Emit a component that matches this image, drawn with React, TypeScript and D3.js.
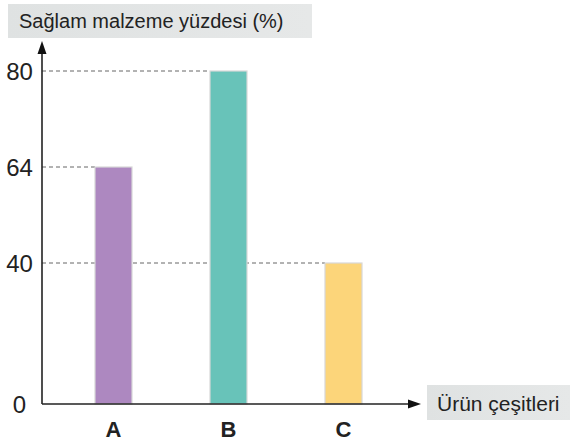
import React from "react";
import * as d3 from "d3";

const categories = ["A", "B", "C"];
const values = [64, 80, 40];
const barColors = ["#ad88c0", "#68c3b9", "#fcd57a"];
const yTicks = [0, 40, 64, 80];
const yTitle = "Sağlam malzeme yüzdesi (%)";
const xTitle = "Ürün çeşitleri";

const W = 570;
const H = 441;
const font = "'Liberation Sans', Arial, Helvetica, sans-serif";

const App = () => {
  const axisX = 42;
  const baseY = 404;
  // the picture spaces the ticks evenly, not proportionally
  const y = d3.scaleLinear().domain([0, 40, 64, 80]).range([baseY, 263, 167, 71]);
  const x = d3.scalePoint<string>().domain(categories).range([113.5, 343.5]);
  const barW = 37;

  return (
    <svg
      width={W}
      height={H}
      style={{ position: "absolute", left: 0, top: 0, background: "#fff" }}
      fontFamily={font}
    >
      <defs>
        <linearGradient id="boxGrad" x1="0" x2="1" y1="0" y2="0">
          <stop offset="0%" stopColor="#dfe2e2" />
          <stop offset="100%" stopColor="#e6e8e8" />
        </linearGradient>
      </defs>

      {/* dashed guide lines, behind the bars */}
      {values.map((v, i) => (
        <line
          key={"g" + i}
          x1={axisX}
          x2={(x(categories[i]) as number) - barW / 2}
          y1={y(v)}
          y2={y(v)}
          stroke="#666"
          strokeWidth={1}
          strokeDasharray="4,3"
        />
      ))}

      {/* bars */}
      {values.map((v, i) => (
        <rect
          key={"b" + i}
          x={(x(categories[i]) as number) - barW / 2}
          y={y(v)}
          width={barW}
          height={baseY - y(v)}
          fill={barColors[i]}
          stroke="#d8d8d8"
          strokeWidth={1.2}
        />
      ))}

      {/* axes */}
      <line x1={axisX} x2={axisX} y1={baseY} y2={52} stroke="#222" strokeWidth={1.6} />
      <path d={`M${axisX},41 L${axisX - 4.5},54 L${axisX + 4.5},54 Z`} fill="#111" />
      <line x1={axisX} x2={410} y1={baseY} y2={baseY} stroke="#222" strokeWidth={1.6} />
      <path d={`M421,${baseY} L408,${baseY - 4.5} L408,${baseY + 4.5} Z`} fill="#111" />

      {/* y tick labels */}
      {yTicks.map((t) => (
        <text
          key={"t" + t}
          x={19.5}
          y={y(t)}
          dy="0.36em"
          textAnchor="middle"
          fontSize={24}
          fill="#222"
        >
          {t}
        </text>
      ))}

      {/* category labels */}
      {categories.map((c) => (
        <text
          key={"c" + c}
          x={x(c) as number}
          y={437}
          textAnchor="middle"
          fontSize={22}
          fontWeight="bold"
          fill="#222"
        >
          {c}
        </text>
      ))}

      {/* titles */}
      <rect x={8} y={4} width={304} height={34} fill="url(#boxGrad)" />
      <text x={19} y={28} fontSize={20} fill="#222">
        {yTitle}
      </text>
      <rect x={427} y={385} width={143} height={35} fill="url(#boxGrad)" />
      <text x={437} y={411} fontSize={21} fill="#222">
        {xTitle}
      </text>
    </svg>
  );
};

export default App;
